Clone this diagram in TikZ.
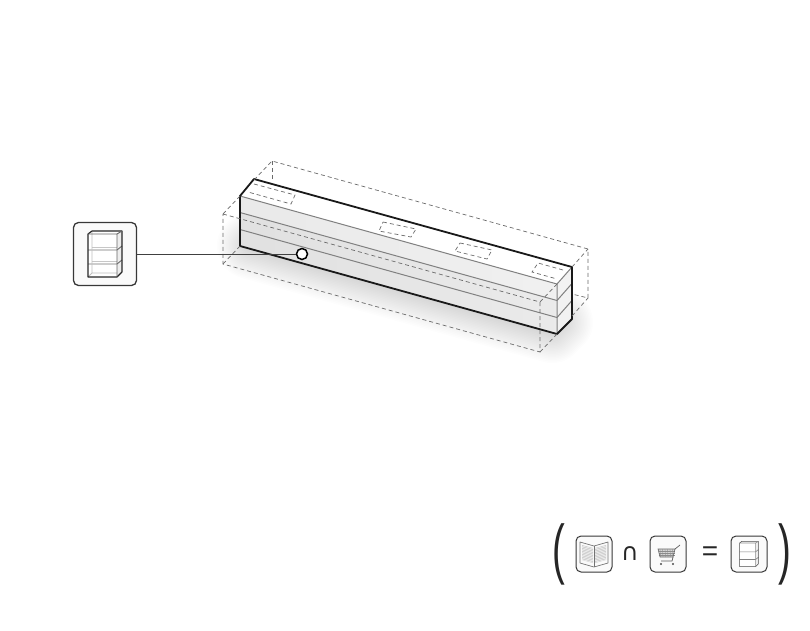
\documentclass[tikz,border=0pt]{standalone}
\usepackage{fontspec}
\usetikzlibrary{positioning}
\newfontfamily\symfont{Liberation Sans}
\newfontfamily\capfont{DejaVu Sans}
\definecolor{linegray}{gray}{0.5}
\definecolor{dashgray}{gray}{0.42}
\tikzset{
 iconbox/.style={draw=black!78,rounded corners=5pt,line width=1.3pt,fill=black!2,inner sep=0pt},
 dashline/.style={draw=dashgray,dash pattern=on 4pt off 3pt,line width=.7pt},
 beamedge/.style={draw=black!90,line width=1.8pt,line cap=round,line join=round},
 layerline/.style={draw=linegray,line width=1pt},
 symbol/.style={inner sep=0pt,text=black!85},
 paren/.style={symbol,font=\symfont\fontsize{66}{66}\selectfont,xscale=.58,transform shape},
 shelf/.pic={
  \fill[white] (-17,-20)--(-13,-23)--(17,-23)--(17,18)--(12,23)--(-17,23)--cycle;
  \fill[black!7] (12,-20)--(17,-23)--(17,18)--(12,23)--cycle;
  \foreach \y in {-7,7}
   \draw[black!22] (-13,\y+.5)--(12,\y+.5);
  \foreach \y in {-7,7}
   \draw[black!55] (-17,\y+3)--(12,\y+3)--(17,\y-1);
  \draw[black!25] (-13,-23)--(-13,19)--(-17,23) (-13,19)--(12,19);
  \draw[black!85,line join=round,line width=1.15pt] (-17,-20)--(-13,-23)--(17,-23)--(17,18)--(12,23)--(-17,23)--cycle;
  \draw[black!60] (-17,-20)--(12,-20)--(17,-23) (12,-20)--(12,23);
 },
 shelfsmall/.pic={
  \fill[white] (-17,-20)--(-13,-23)--(17,-23)--(17,18)--(12,23)--(-17,23)--cycle;
  \fill[black!7] (12,-20)--(17,-23)--(17,18)--(12,23)--cycle;
  \foreach \y in {-7,7}
   \draw[black!50] (-17,\y+3)--(12,\y+3)--(17,\y-1);
  \draw[black!70,line join=round] (-17,-20)--(-13,-23)--(17,-23)--(17,18)--(12,23)--(-17,23)--cycle;
  \draw[black!45] (-17,-20)--(12,-20)--(17,-23) (12,-20)--(12,23);
 },
 book/.pic={
  \fill[black!20] (-12,-9)--(-1,-6)--(-1,9)--(-12,6)--cycle (12,-9)--(1,-6)--(1,9)--(12,6)--cycle;
  \foreach \y in {-8,-6.5,...,6}
   \draw[white,line width=.35pt] (-12,\y)--(0,\y+3)--(12,\y);
  \draw[black!55,line width=.7pt,line join=round] (-14,-12)--(0,-8)--(14,-12)--(14,9)--(0,13)--(-14,9)--cycle;
  \draw[black!55,line width=.6pt] (0,-8)--(0,13);
 },
 cart/.pic={
  \fill[black!16] (-10,-5)--(7,-5)--(5,3)--(-8,3)--cycle;
  \foreach \x in {-8,-5.5,...,6}
   \draw[black!45,line width=.3pt] (\x,-5)--(\x+.5,3);
  \foreach \y in {-3,-1,1}
   \draw[black!45,line width=.3pt] (-9.5,\y)--(6.5,\y);
  \draw[black!60,line width=.6pt] (-10,-5)--(7,-5)--(5,3)--(-8,3)--cycle;
  \draw[black!65,line width=.7pt] (12,-9)--(7,-5) (5,3)--(4,7)--(-7,7);
  \fill[black!70] (-7,10) circle (1.2) (5,10) circle (1.2);
 }
}
\begin{document}
\begin{tikzpicture}[x=1pt,y=-1pt]
 \useasboundingbox (0,0) rectangle (810,630);
 \fill[white] (0,0) rectangle (810,630);
 % soft shadow
 \foreach \w in {3,6,...,66}
  \draw[black,opacity=.006,line width=\w pt,line join=round] (250,246)--(552,330)--(560,322)--(262,238)--cycle;
 % beam
 \fill[white] (240,196)--(254,179)--(572,267)--(557,284)--cycle;
 \shade[left color=black!12,right color=black!8] (240,196)--(557,284)--(557,334)--(240,246)--cycle;
 \fill[black!5] (557,284)--(572,267)--(572,319)--(557,334)--cycle;
 \fill[white,opacity=.3] (240,196)--(557,284)--(557,300.5)--(240,212.5)--cycle;
 \foreach \d in {16.5,33.5}{
  \draw[layerline] (240,196+\d)--(557,284+\d)--(572,267+\d);
 }
 \draw[layerline] (240,196)--(557,284)--(572,267) (557,284)--(557,334);
 \draw[beamedge] (240,196)--(254,179)--(572,267)--(572,319)--(557,334)--(240,246)--cycle;
 % markings on top
 \draw[dashline] (254,184)--(295,195)--(291,204)--(248,192);
 \draw[dashline] (383,222)--(416,229)--(411,237)--(379,231)--cycle;
 \draw[dashline] (460,243)--(492,250)--(487,259)--(455,251)--cycle;
 \draw[dashline] (563,270)--(538,263)--(532,272)--(557,279);
 % outer box
 \draw[dashline] (254,180)--(272,161)--(588,249)--(588,298)--(572,294);
 \draw[dashline] (272,161)--(272,181);
 \draw[dashline] (223,214)--(540,302)--(540,352)--(223,264)--cycle;
 \draw[dashline] (223,214)--(240,196);
 \draw[dashline] (223,264)--(240,246);
 \draw[dashline] (540,302)--(557,284) (572,267)--(588,249);
 \draw[dashline] (540,352)--(557,334) (572,316)--(588,298);
 % callout
 \node[iconbox,minimum size=63pt] (shelfbox) at (105,254) {};
 \pic[line width=.9pt] at (105,254) {shelf};
 \node[draw=black,line width=1.5pt,fill=white,circle,minimum size=11pt,inner sep=0pt] (pin) at (302,254) {};
 \draw[black!75,line width=1pt] (shelfbox.east)--(pin.west);
 % equation
 \node[paren] (lparen) at (559,554) {(};
 \node[iconbox,minimum size=36pt,line width=1pt] (bookbox) at (594,554) {};
 \pic at (594,554) {book};
 \node[symbol,font=\capfont\fontsize{24}{24}\selectfont] (capsign) at (630,554) {∩};
 \node[iconbox,minimum size=36pt,line width=1pt] (cartbox) at (668,554) {};
 \pic at (668,554) {cart};
 \node[symbol,font=\symfont\fontsize{28}{28}\selectfont] (eqsign) at (710,554) {=};
 \node[iconbox,minimum size=36pt,line width=1pt] (resultbox) at (749,554) {};
 \pic[scale=.55,line width=.6pt] at (749,554) {shelfsmall};
 \node[paren] (rparen) at (785,554) {)};
\end{tikzpicture}
\end{document}
